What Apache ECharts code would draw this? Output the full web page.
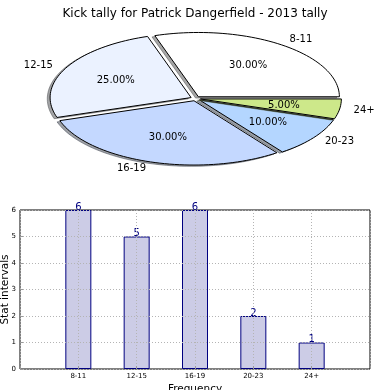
<!DOCTYPE html>
<html><head><meta charset="utf-8">
<script src="https://cdn.jsdelivr.net/npm/echarts@6/dist/echarts.min.js"></script>
<style>html,body{margin:0;padding:0;background:#fff}#c{width:390px;height:390px}</style>
</head><body><div id="c"></div>
<script>
// ---- data ----
const titleText = 'Kick tally for Patrick Dangerfield - 2013 tally';
const categories = ['8-11', '12-15', '16-19', '20-23', '24+'];
const counts = [6, 5, 6, 2, 1];
const yTicks = [0, 1, 2, 3, 4, 5, 6];
const sliceColors = ['#ffffff', '#ebf2ff', '#c4d8ff', '#b4d6ff', '#cde88a'];

// ---- pie geometry (style) ----
const PIE = { cx: 195.5, cy: 98.6, rx: 141, ry: 64.3, explode: 0.035, labelDist: 1.1, pctDist: 0.6, shadowDx: -0.02, shadowDy: -0.02 };
const FONT = '"DejaVu Sans", sans-serif';

const total = counts.reduce((a, b) => a + b, 0);
const cum = [0];
counts.forEach((v, i) => cum.push(cum[i] + v));

function ellPts(cx, cy, a1, a2) {
  const pts = [[cx, cy]];
  const n = Math.max(8, Math.ceil((a2 - a1) / 2));
  for (let k = 0; k <= n; k++) {
    const t = (a1 + (a2 - a1) * k / n) * Math.PI / 180;
    pts.push([cx + PIE.rx * Math.cos(t), cy - PIE.ry * Math.sin(t)]);
  }
  return pts;
}
function shadowOf(hex) {
  const r = parseInt(hex.slice(1, 3), 16), g = parseInt(hex.slice(3, 5), 16), b = parseInt(hex.slice(5, 7), 16);
  return `rgba(${Math.round(r * 0.3)},${Math.round(g * 0.3)},${Math.round(b * 0.3)},0.5)`;
}

function renderPie(params, api) {
  const i = params.dataIndex;
  const v = api.value(0);
  const a1 = cum[i] / total * 360;
  const a2 = (cum[i] + v) / total * 360;
  const mid = (a1 + a2) / 2 * Math.PI / 180;
  const cx = PIE.cx + PIE.explode * PIE.rx * Math.cos(mid);
  const cy = PIE.cy - PIE.explode * PIE.ry * Math.sin(mid);
  const sh = shadowOf(sliceColors[i]);
  const lx = cx + PIE.labelDist * PIE.rx * Math.cos(mid);
  const ly = cy - PIE.labelDist * PIE.ry * Math.sin(mid);
  const px = cx + PIE.pctDist * PIE.rx * Math.cos(mid);
  const py = cy - PIE.pctDist * PIE.ry * Math.sin(mid);
  return {
    type: 'group',
    children: [
      { type: 'polygon', z2: 2 * i, shape: { points: ellPts(cx + PIE.shadowDx * PIE.rx, cy - PIE.shadowDy * PIE.ry, a1, a2) },
        style: { fill: sh, stroke: sh, lineWidth: 1 } },
      { type: 'polygon', z2: 2 * i + 1, shape: { points: ellPts(cx, cy, a1, a2) },
        style: { fill: sliceColors[i], stroke: '#000', lineWidth: 1, lineJoin: 'miter' } },
      { type: 'text', z2: 50, x: lx, y: ly,
        style: { text: categories[i], fill: '#000', font: '10px ' + FONT, align: Math.cos(mid) > 0 ? 'left' : 'right', verticalAlign: 'middle' } },
      { type: 'text', z2: 50, x: px, y: py,
        style: { text: (v / total * 100).toFixed(2) + '%', fill: '#000', font: '10px ' + FONT, align: 'center', verticalAlign: 'middle' } }
    ]
  };
}

const chart = echarts.init(document.getElementById('c'), null, { renderer: 'canvas' });
chart.setOption({
  backgroundColor: '#fff',
  animation: false,
  title: { text: titleText, left: 'center', top: 3, textStyle: { fontFamily: FONT, fontSize: 12, fontWeight: 'normal', color: '#000' } },
  grid: { left: 20, right: 20, top: 210, bottom: 21, outerBoundsMode: 'none', containLabel: false,
          show: true, borderColor: '#000', borderWidth: 1, backgroundColor: 'transparent' },
  xAxis: {
    type: 'value', min: 0, max: 6, interval: 1, z: 3,
    name: 'Frequency', nameLocation: 'middle', nameGap: 14.5, nameMoveOverlap: false,
    nameTextStyle: { fontFamily: FONT, fontSize: 10.5, color: '#000' },
    axisLine: { show: false },
    axisTick: { show: true, inside: true, length: 3, lineStyle: { color: '#999' } },
    axisLabel: { formatter: v => categories[v - 1] || '', fontFamily: FONT, fontSize: 7, color: '#000', margin: 4 },
    splitLine: { show: true, lineStyle: { color: '#b4b4b4', type: [1, 2], width: 1 } }
  },
  yAxis: {
    type: 'value', min: yTicks[0], max: yTicks[yTicks.length - 1], interval: 1, z: 3,
    name: 'Stat intervals', nameLocation: 'middle', nameGap: 9, nameMoveOverlap: false,
    nameTextStyle: { fontFamily: FONT, fontSize: 10.5, color: '#000' },
    axisLine: { show: false },
    axisTick: { show: true, inside: true, length: 3, lineStyle: { color: '#999' } },
    axisLabel: { fontFamily: FONT, fontSize: 7, color: '#000', margin: 4 },
    splitLine: { show: true, lineStyle: { color: '#b4b4b4', type: [1, 2], width: 1 } }
  },
  series: [
    {
      type: 'custom', coordinateSystem: 'none', renderItem: renderPie,
      data: counts.map(v => [v]), silent: true
    },
    {
      type: 'bar', data: counts.map((v, i) => [i + 1, v]), barWidth: 26,
      itemStyle: { color: 'rgba(0,0,128,0.2)', borderColor: '#000080', borderWidth: 1 },
      label: { show: true, position: 'top', distance: -2, color: '#000080', fontFamily: FONT, fontSize: 10 }
    }
  ]
});
</script></body></html>
